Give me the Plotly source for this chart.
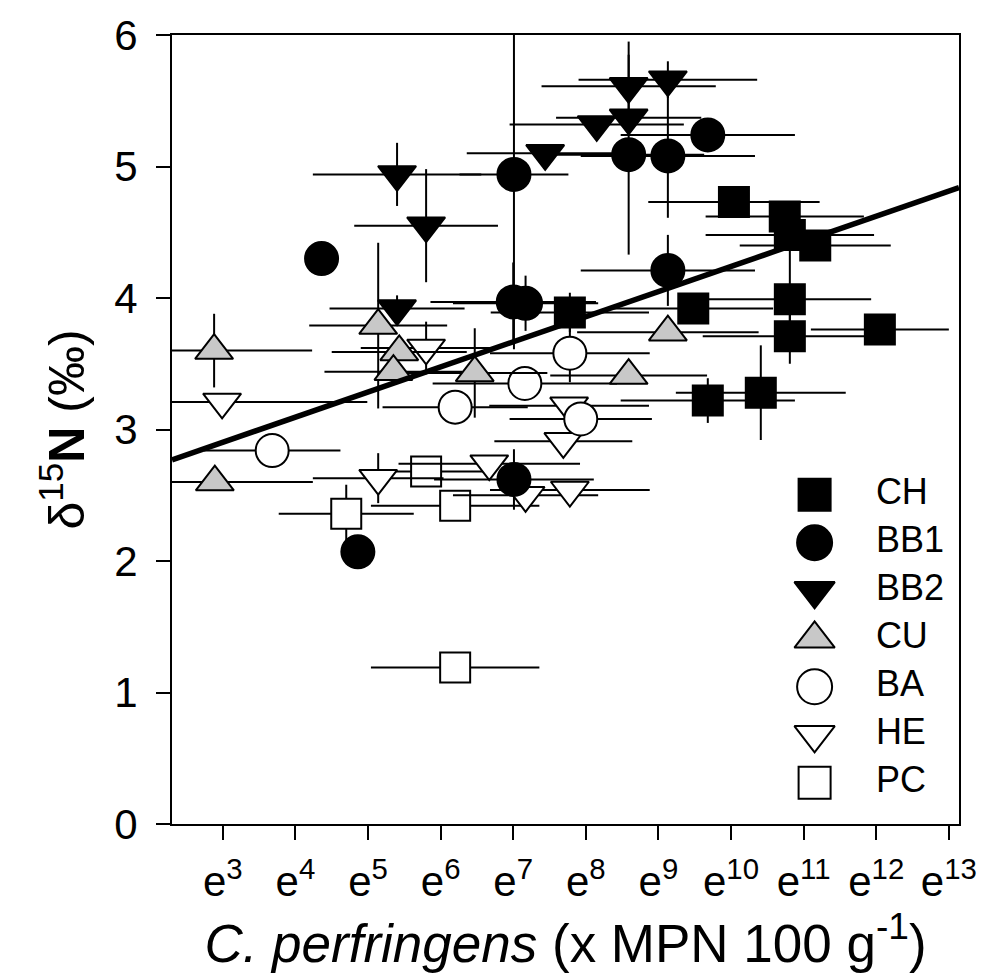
import plotly.graph_objects as go

# ---------------- data (x = ln C. perfringens, y = d15N) ----------------
ch_x = [7.78, 10.04, 10.74, 10.81, 11.16, 10.81, 9.48, 10.81, 12.05, 9.68, 10.41]
ch_y = [3.89, 4.73, 4.62, 4.48, 4.40, 3.99, 3.92, 3.71, 3.76, 3.22, 3.28]
ch_ex = [1.09, 1.18, 1.09, 1.16, 1.04, 1.12, 1.10, 1.20, 0.95, 1.20, 1.17]
ch_ey = [0.15, 0.0, 0.0, 0.0, 0.0, 0.39, 0.0, 0.21, 0.0, 0.17, 0.36]

bb1_x = [4.36, 7.01, 7.00, 7.17, 8.59, 9.13, 9.68, 9.13, 4.86, 7.01]
bb1_y = [4.30, 4.94, 3.97, 3.96, 5.09, 5.08, 5.24, 4.21, 2.07, 2.62]
bb1_ex = [0.0, 0.75, 1.14, 1.0, 1.04, 1.2, 1.2, 1.2, 0.0, 1.1]
bb1_ey = [0.0, 1.33, 0.3, 0.21, 0.76, 0.47, 0.0, 0.27, 0.12, 0.23]

bb2_x = [5.40, 5.80, 5.40, 7.44, 8.59, 9.13, 8.15, 8.59]
bb2_y = [4.94, 4.55, 3.92, 5.10, 5.61, 5.66, 5.32, 5.37]
bb2_ex = [1.16, 0.99, 0.93, 1.08, 1.2, 1.23, 1.2, 1.0]
bb2_ey = [0.24, 0.43, 0.1, 0.0, 0.34, 0.14, 0.0, 0.0]

cu_x = [2.88, 5.14, 5.43, 5.35, 6.47, 9.13, 8.59, 2.89]
cu_y = [3.60, 3.79, 3.59, 3.44, 3.43, 3.74, 3.41, 2.60]
cu_ex = [1.35, 0.95, 0.93, 0.95, 1.0, 1.25, 1.08, 1.35]
cu_ey = [0.28, 0.63, 0.0, 0.0, 0.34, 0.0, 0.0, 0.0]

ba_x = [7.78, 7.16, 6.20, 3.68, 7.93]
ba_y = [3.58, 3.35, 3.17, 2.84, 3.08]
ba_ex = [1.1, 1.27, 1.0, 0.94, 0.98]
ba_ey = [0.22, 0.0, 0.0, 0.0, 0.0]

he_x = [2.99, 5.80, 7.77, 5.14, 6.67, 7.17, 7.69, 7.78]
he_y = [3.21, 3.62, 3.18, 2.63, 2.74, 2.50, 2.91, 2.54]
he_ex = [2.0, 0.9, 1.1, 0.9, 1.25, 1.0, 0.95, 1.1]
he_ey = [0.0, 0.2, 0.0, 0.19, 0.0, 0.0, 0.0, 0.0]

pc_x = [4.70, 5.80, 6.20, 6.20]
pc_y = [2.36, 2.68, 2.42, 1.19]
pc_ex = [0.93, 0.9, 1.16, 1.16]
pc_ey = [0.22, 0.0, 0.0, 0.0]

# regression line y = a + b*x
reg_a = 2.33
reg_b = 0.191

x_ticks = list(range(3, 14))
x_ticktext = [f"e<sup>{k}</sup>" for k in x_ticks]
y_ticks = [0, 1, 2, 3, 4, 5, 6]

x_range = [2.30, 13.14]
y_range = [0, 6]

FONT = "Arial, Liberation Sans, sans-serif"
GRAY = "#c8c8c8"

series = [
    ("CH", ch_x, ch_y, ch_ex, ch_ey, "square", "black", 30),
    ("BB1", bb1_x, bb1_y, bb1_ex, bb1_ey, "circle", "black", 33),
    ("BB2", bb2_x, bb2_y, bb2_ex, bb2_ey, "triangle-down", "black", 33),
    ("CU", cu_x, cu_y, cu_ex, cu_ey, "triangle-up", GRAY, 33),
    ("BA", ba_x, ba_y, ba_ex, ba_ey, "circle", "white", 33),
    ("HE", he_x, he_y, he_ex, he_ey, "triangle-down", "white", 33),
    ("PC", pc_x, pc_y, pc_ex, pc_ey, "square", "white", 30),
]

fig = go.Figure()

# reverse draw order so that filled black markers end on top like the original
for name, xs, ys, ex, ey, sym, fill, size in reversed(series):
    fig.add_trace(go.Scatter(
        x=xs, y=ys, mode="markers", name=name, showlegend=False,
        marker=dict(symbol=sym, size=size, color=fill,
                    line=dict(color="black", width=2)),
        error_x=dict(type="data", array=ex, visible=True, color="black",
                     thickness=2, width=0),
        error_y=dict(type="data", array=ey, visible=True, color="black",
                     thickness=2, width=0),
    ))

# regression line across the axis range
lx = [x_range[0], x_range[1]]
ly = [reg_a + reg_b * v for v in lx]
fig.add_trace(go.Scatter(x=lx, y=ly, mode="lines", showlegend=False,
                         line=dict(color="black", width=5.5)))

# custom legend (large symbols) on an overlay axis
names = [s[0] for s in series]
idx = list(range(len(series)))
for i, (name, xs, ys, ex, ey, sym, fill, size) in enumerate(series):
    fig.add_trace(go.Scatter(
        x=[0.166], y=[i], xaxis="x2", yaxis="y2", mode="markers",
        showlegend=False, hoverinfo="skip", cliponaxis=False,
        marker=dict(symbol=sym, size=size + 2, color=fill,
                    line=dict(color="black", width=2)),
    ))
fig.add_trace(go.Scatter(
    x=[0.52] * len(names), y=idx, xaxis="x2", yaxis="y2", mode="text",
    text=names, textposition="middle right", showlegend=False,
    cliponaxis=False,
    textfont=dict(family=FONT, size=36, color="black"), hoverinfo="skip",
))

axis_common = dict(
    showgrid=False, zeroline=False, showline=True, linecolor="black",
    linewidth=2, mirror=True, ticks="outside", ticklen=14, tickwidth=2,
    tickcolor="black",
)

fig.update_layout(
    width=989, height=973,
    margin=dict(l=172, r=22, t=33, b=149),
    paper_bgcolor="white", plot_bgcolor="white",
    font=dict(family=FONT, color="black"),
    showlegend=False,
    xaxis=dict(
        range=x_range, tickvals=x_ticks, ticktext=x_ticktext,
        tickfont=dict(size=42, family=FONT), ticklabelstandoff=6,
        title=dict(text="<i>C. perfringens</i> (x MPN 100 g<sup>-1</sup>)",
                   font=dict(size=53, family=FONT), standoff=4),
        **axis_common,
    ),
    yaxis=dict(
        range=y_range, tickvals=y_ticks,
        tickfont=dict(size=42, family=FONT), ticklabelstandoff=10,
        title=dict(text="δ<sup>15</sup><b>N</b> (‰)",
                   font=dict(size=50, family=FONT), standoff=14),
        **axis_common,
    ),
    xaxis2=dict(domain=[0.78, 1.0], range=[0, 1], visible=False,
                anchor="y2", fixedrange=True),
    yaxis2=dict(domain=[0.0522, 0.4173], range=[6.0, 0.0], visible=False,
                anchor="x2", fixedrange=True),
)

fig.write_html("out.html")
